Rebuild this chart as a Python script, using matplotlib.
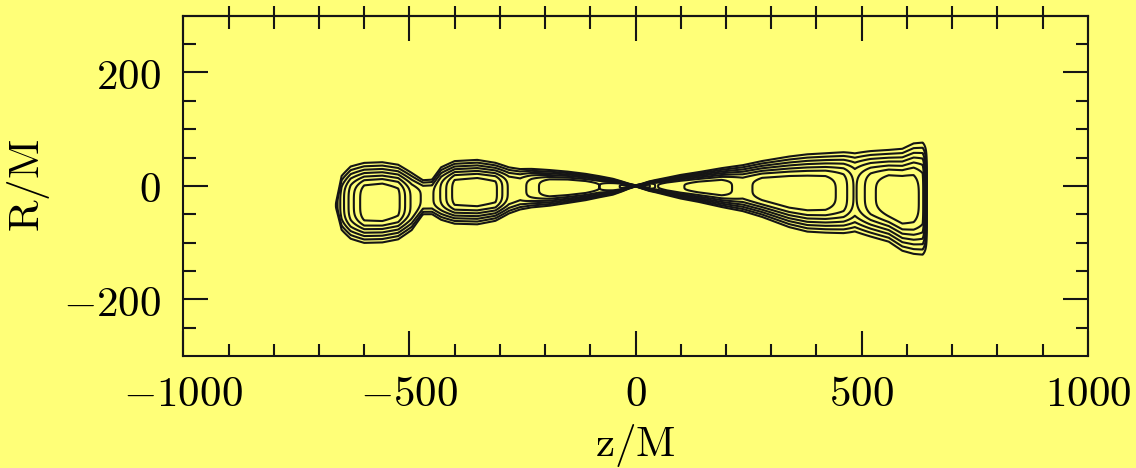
import numpy as np
import matplotlib.pyplot as plt

plt.rcParams['mathtext.fontset'] = 'cm'
plt.rcParams['font.family'] = 'serif'

# jet outline along the axis: outer top / bottom edge (R/M) and relative brightness
z_prof = [-665, -650, -630, -600, -560, -525, -495, -470, -450, -430, -400, -350,
          -310, -280, -255, -230, -190, -150, -110, -80, -50, -30, -15, 0,
          15, 30, 45, 70, 100, 140, 190, 237, 280, 340, 380, 420, 460, 485, 520,
          560, 590, 615, 635, 645]
r_top = [-35, 25, 38, 42, 43, 39, 27, 14, 15, 36, 45, 47,
         42, 36, 33, 32, 29, 26, 22, 18, 13, 8, 4, 1,
         4, 8, 11, 15, 20, 25, 32, 38, 45, 53, 57, 59, 62, 63, 64,
         65, 67, 77, 80, 80]
r_bot = [-35, -85, -97, -102, -101, -96, -82, -54, -54, -63, -68, -69,
         -63, -52, -45, -40, -36, -31, -26, -21, -16, -10, -5, -1,
         -5, -9, -12, -17, -23, -29, -38, -46, -56, -74, -82, -84, -86, -86, -92,
         -100, -116, -122, -125, -125]
amp = [0.0, 0.25, 0.55, 0.85, 0.88, 0.8, 0.45, 0.3, 0.3, 0.5, 0.82, 0.85,
       0.8, 0.45, 0.4, 0.55, 0.72, 0.74, 0.7, 0.62, 0.7, 0.78, 0.78, 0.5,
       0.78, 0.78, 0.6, 0.7, 0.75, 0.8, 0.82, 0.7, 0.82, 0.86, 0.86, 0.84, 0.7, 0.45, 0.72,
       0.86, 0.88, 0.84, 0.7, 0.0]
levels = [0.04, 0.1, 0.2, 0.33, 0.48, 0.62, 0.76]

bg = '#ffff78'

z = np.linspace(-700, 700, 1401)
r = np.linspace(-170, 130, 601)
Z, R = np.meshgrid(z, r)
top = np.interp(z, z_prof, r_top)
bot = np.interp(z, z_prof, r_bot)
mid = (top + bot) / 2
half = np.maximum((top - bot) / 2, 0.5)
a = np.interp(z, z_prof, amp)
u = 1.35 * (R - mid) / half
F = a * np.exp(-u ** 4)

fig = plt.figure(figsize=(11.36, 4.68), dpi=100, facecolor=bg)
ax = fig.add_axes([0.1614, 0.2393, 0.7961, 0.7271], facecolor=bg)
ax.contour(Z, R, F, levels=levels, colors='#151515', linewidths=1.5)

ax.set_xlim(-1000, 1000)
ax.set_ylim(-300, 300)

xt = [-1000, -500, 0, 500, 1000]
yt = [-200, 0, 200]
ax.set_xticks(xt)
ax.set_xticklabels(['$%d$' % v for v in xt])
ax.set_yticks(yt)
ax.set_yticklabels(['$%d$' % v for v in yt])
ax.set_xticks(np.arange(-900, 1000, 100), minor=True)
ax.set_yticks(np.arange(-250, 300, 50), minor=True)

ax.tick_params(which='both', direction='in', top=True, right=True, width=1.5,
               colors='#151515', labelsize=31, labelcolor='black')
ax.tick_params(which='major', length=18, pad=12)
ax.tick_params(axis='y', which='major', pad=16)
ax.tick_params(which='minor', length=9)
for s in ax.spines.values():
    s.set_linewidth(1.5)
    s.set_color('#151515')

# short stubs poking out above the top frame
sec = ax.secondary_xaxis('top')
sec.set_xticks(np.arange(-900, 1000, 100))
sec.set_xticklabels([])
sec.tick_params(direction='out', length=7, width=1.5, colors='#151515')
sec.spines['top'].set_linewidth(1.5)

ax.set_xlabel(r'$\mathrm{z/M}$', fontsize=31, labelpad=5)
ax.set_ylabel(r'$\mathrm{R/M}$', fontsize=31, labelpad=8)

fig.savefig('out.png', dpi=100, facecolor=bg)
